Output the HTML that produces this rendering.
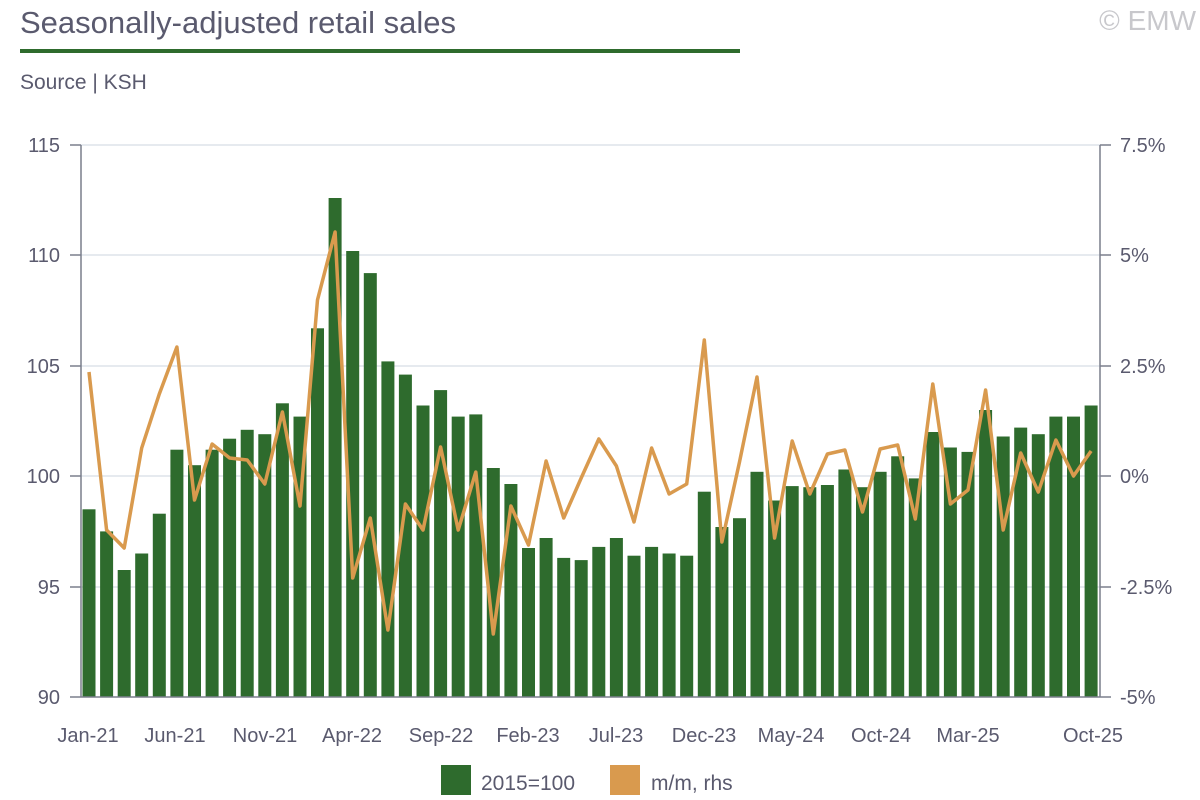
<!DOCTYPE html>
<html><head><meta charset="utf-8"><style>
html,body{margin:0;padding:0;background:#fff;}
svg{display:block;font-family:"Liberation Sans",sans-serif;}
</style></head><body>
<svg width="1200" height="800" viewBox="0 0 1200 800" xmlns="http://www.w3.org/2000/svg">
<text x="20" y="33" font-size="31" fill="#5a5a6e">Seasonally-adjusted retail sales</text>
<text x="1196" y="30" font-size="28" fill="#c8c8cc" text-anchor="end">© EMW</text>
<rect x="20" y="49" width="720" height="4" fill="#2e6b2d"/>
<text x="20" y="89" font-size="21" fill="#5a5a6e">Source | KSH</text>
<g stroke="#dde3ea" stroke-width="1.5">
<line x1="81" y1="145" x2="1100" y2="145"/><line x1="81" y1="255" x2="1100" y2="255"/>
<line x1="81" y1="366" x2="1100" y2="366"/><line x1="81" y1="476" x2="1100" y2="476"/>
<line x1="81" y1="587" x2="1100" y2="587"/>
</g>
<g fill="#2e6b2d">
<rect x="82.5" y="509.3" width="13" height="187.7"/>
<rect x="100.1" y="531.4" width="13" height="165.6"/>
<rect x="117.7" y="570" width="13" height="127"/>
<rect x="135.2" y="553.5" width="13" height="143.5"/>
<rect x="152.8" y="513.7" width="13" height="183.3"/>
<rect x="170.4" y="449.7" width="13" height="247.3"/>
<rect x="188" y="465.2" width="13" height="231.8"/>
<rect x="205.6" y="449.7" width="13" height="247.3"/>
<rect x="223.1" y="438.7" width="13" height="258.3"/>
<rect x="240.7" y="429.8" width="13" height="267.2"/>
<rect x="258.3" y="434.2" width="13" height="262.8"/>
<rect x="275.9" y="403.3" width="13" height="293.7"/>
<rect x="293.5" y="416.6" width="13" height="280.4"/>
<rect x="311" y="328.3" width="13" height="368.7"/>
<rect x="328.6" y="198" width="13" height="499"/>
<rect x="346.2" y="251" width="13" height="446"/>
<rect x="363.8" y="273.1" width="13" height="423.9"/>
<rect x="381.4" y="361.4" width="13" height="335.6"/>
<rect x="398.9" y="374.6" width="13" height="322.4"/>
<rect x="416.5" y="405.5" width="13" height="291.5"/>
<rect x="434.1" y="390.1" width="13" height="306.9"/>
<rect x="451.7" y="416.6" width="13" height="280.4"/>
<rect x="469.3" y="414.4" width="13" height="282.6"/>
<rect x="486.8" y="468" width="13" height="229"/>
<rect x="504.4" y="484" width="13" height="213"/>
<rect x="522" y="548" width="13" height="149"/>
<rect x="539.6" y="538" width="13" height="159"/>
<rect x="557.2" y="557.9" width="13" height="139.1"/>
<rect x="574.7" y="560.1" width="13" height="136.9"/>
<rect x="592.3" y="546.9" width="13" height="150.1"/>
<rect x="609.9" y="538" width="13" height="159"/>
<rect x="627.5" y="555.7" width="13" height="141.3"/>
<rect x="645.1" y="546.9" width="13" height="150.1"/>
<rect x="662.6" y="553.5" width="13" height="143.5"/>
<rect x="680.2" y="555.7" width="13" height="141.3"/>
<rect x="697.8" y="491.7" width="13" height="205.3"/>
<rect x="715.4" y="527" width="13" height="170"/>
<rect x="733" y="518.2" width="13" height="178.8"/>
<rect x="750.5" y="471.8" width="13" height="225.2"/>
<rect x="768.1" y="500.5" width="13" height="196.5"/>
<rect x="785.7" y="486.1" width="13" height="210.9"/>
<rect x="803.3" y="487.2" width="13" height="209.8"/>
<rect x="820.9" y="485" width="13" height="212"/>
<rect x="838.4" y="469.5" width="13" height="227.5"/>
<rect x="856" y="487.2" width="13" height="209.8"/>
<rect x="873.6" y="471.8" width="13" height="225.2"/>
<rect x="891.2" y="456.3" width="13" height="240.7"/>
<rect x="908.8" y="478.4" width="13" height="218.6"/>
<rect x="926.3" y="432" width="13" height="265"/>
<rect x="943.9" y="447.5" width="13" height="249.5"/>
<rect x="961.5" y="451.9" width="13" height="245.1"/>
<rect x="979.1" y="410" width="13" height="287"/>
<rect x="996.7" y="436.5" width="13" height="260.5"/>
<rect x="1014.2" y="427.6" width="13" height="269.4"/>
<rect x="1031.8" y="434.2" width="13" height="262.8"/>
<rect x="1049.4" y="416.6" width="13" height="280.4"/>
<rect x="1067" y="416.6" width="13" height="280.4"/>
<rect x="1084.6" y="405.5" width="13" height="291.5"/>
</g>
<polyline fill="none" stroke="#d99a4e" stroke-width="3.5" stroke-linejoin="round" points="89,372 106.6,530 124.2,548 141.7,448 159.3,394 176.9,347 194.5,500 212.1,444 229.6,458 247.2,460 264.8,484 282.4,412 300,506 317.5,300 335.1,232 352.7,578 370.3,518 387.9,630 405.4,504 423,530 440.6,447 458.2,530 475.8,472 493.3,634 510.9,506 528.5,545 546.1,461 563.7,518 581.2,478 598.8,439 616.4,466 634,522 651.6,448 669.1,494 686.7,484 704.3,340 721.9,542 739.5,462 757,377 774.6,538 792.2,441 809.8,494 827.4,454 844.9,450 862.5,512 880.1,449 897.7,445 915.3,519 932.8,384 950.4,504 968,490 985.6,390 1003.2,530 1020.7,453 1038.3,492 1055.9,440 1073.5,476 1091.1,451"/>
<g stroke="#7a7f8c" stroke-width="1.5">
<line x1="81" y1="145" x2="81" y2="697"/><line x1="1100" y1="145" x2="1100" y2="697"/>
<line x1="81" y1="697" x2="1100" y2="697"/>
<line x1="70" y1="145" x2="81" y2="145"/><line x1="70" y1="255" x2="81" y2="255"/><line x1="70" y1="366" x2="81" y2="366"/><line x1="70" y1="476" x2="81" y2="476"/><line x1="70" y1="587" x2="81" y2="587"/><line x1="70" y1="697" x2="81" y2="697"/>
<line x1="1100" y1="145" x2="1111" y2="145"/><line x1="1100" y1="255" x2="1111" y2="255"/><line x1="1100" y1="366" x2="1111" y2="366"/><line x1="1100" y1="476" x2="1111" y2="476"/><line x1="1100" y1="587" x2="1111" y2="587"/><line x1="1100" y1="697" x2="1111" y2="697"/>
</g>
<g font-size="20" fill="#5a5a6e">
<g text-anchor="end">
<text x="60" y="152">115</text><text x="60" y="262">110</text><text x="60" y="373">105</text><text x="60" y="483">100</text><text x="60" y="594">95</text><text x="60" y="704">90</text>
</g>
<g text-anchor="start">
<text x="1120" y="152">7.5%</text><text x="1120" y="262">5%</text><text x="1120" y="373">2.5%</text><text x="1120" y="483">0%</text><text x="1120" y="594">-2.5%</text><text x="1120" y="704">-5%</text>
</g>
<g text-anchor="middle">
<text x="88" y="742">Jan-21</text><text x="175" y="742">Jun-21</text><text x="265" y="742">Nov-21</text><text x="352" y="742">Apr-22</text><text x="441" y="742">Sep-22</text><text x="528" y="742">Feb-23</text><text x="616" y="742">Jul-23</text><text x="704" y="742">Dec-23</text><text x="791" y="742">May-24</text><text x="881" y="742">Oct-24</text><text x="968" y="742">Mar-25</text><text x="1093" y="742">Oct-25</text>
</g>
</g>
<rect x="441" y="765" width="30" height="30" fill="#2e6b2d"/>
<text x="481" y="790" font-size="21" fill="#5a5a6e">2015=100</text>
<rect x="610" y="765" width="30" height="30" fill="#d99a4e"/>
<text x="651" y="790" font-size="21" fill="#5a5a6e">m/m, rhs</text>
</svg>
</body></html>
